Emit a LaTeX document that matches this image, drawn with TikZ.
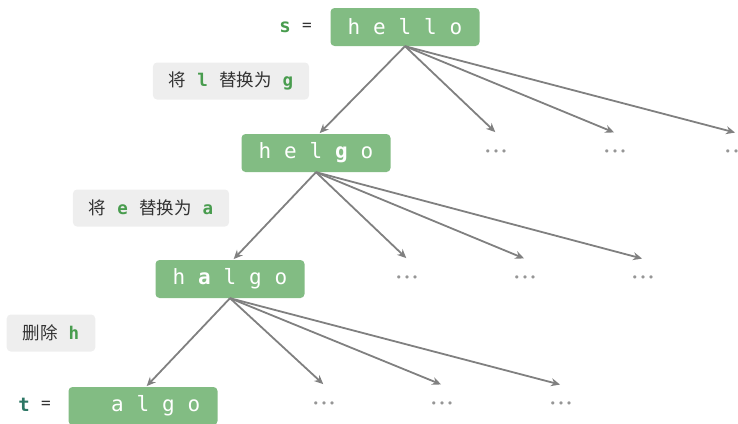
\documentclass[tikz,border=0pt]{standalone}
\usepackage{fontspec}
\setmainfont{DejaVu Sans}
\newfontfamily\cjk{Noto Sans CJK SC}
\newfontfamily\mono{DejaVu Sans Mono}
\usetikzlibrary{arrows.meta}
\definecolor{boxgreen}{RGB}{130,188,131}
\definecolor{labgray}{RGB}{238,238,238}
\definecolor{lgreen}{RGB}{72,156,78}
\definecolor{tgreen}{RGB}{44,118,100}
\definecolor{arrgray}{RGB}{128,128,128}
\definecolor{dotgray}{RGB}{150,150,150}
\definecolor{txtgray}{RGB}{50,50,50}
\newcommand{\lt}[1]{\makebox[25.5pt]{#1}}
\newcommand{\gl}[1]{{\mono\bfseries\color{lgreen}#1}}
\tikzset{
  strbox/.style={fill=boxgreen, rounded corners=4pt, minimum width=149pt, minimum height=38pt,
    inner sep=0pt, text=white, font=\mono\fontsize{21}{21}\selectfont},
  labbox/.style={fill=labgray, rounded corners=4pt, minimum height=37pt, inner xsep=16pt,
    text=txtgray, font=\cjk\fontsize{17.5}{17.5}\selectfont},
  dotnode/.style={minimum height=40pt, inner sep=0pt, text=dotgray,
    font=\fontsize{11}{11}\selectfont},
  arr/.style={draw=arrgray, line width=1.8pt, -{Stealth[length=9pt,width=8pt]}, shorten >=1pt},
  eqlab/.style={inner sep=0pt, font=\mono\bfseries\fontsize{19}{19}\selectfont}
}
\newcommand{\dd}{•\hspace{1.6pt}•\hspace{1.6pt}•}
\begin{document}
\begin{tikzpicture}[x=1pt,y=-1pt]
\useasboundingbox (0,0) rectangle (738,423);
\clip (0,0) rectangle (738,423);
% string boxes
\node[strbox] (hello) at (405,27) {\lt{h}\lt{e}\lt{l}\lt{l}\lt{o}};
\node[strbox] (helgo) at (316,153) {\lt{h}\lt{e}\lt{l}\lt{\bfseries g}\lt{o}};
\node[strbox] (halgo) at (230,279) {\lt{h}\lt{\bfseries a}\lt{l}\lt{g}\lt{o}};
\node[strbox] (algo) at (143,406) {\lt{}\lt{a}\lt{l}\lt{g}\lt{o}};
% s = / t =
\node[eqlab, text=lgreen] (s) at (285,27) {s};
\node[eqlab, text=txtgray, font=\mono\fontsize{16}{16}\selectfont] (seq) at (307,27) {=};
\node[eqlab, text=tgreen] (t) at (24,405) {t};
\node[eqlab, text=txtgray, font=\mono\fontsize{16}{16}\selectfont] (teq) at (46,405) {=};
% operation labels
\node[labbox] (op1) at (231,81) {将\hspace{11pt}\gl{l}\hspace{11pt}替换为\hspace{11pt}\gl{g}};
\node[labbox] (op2) at (151,208) {将\hspace{11pt}\gl{e}\hspace{11pt}替换为\hspace{11pt}\gl{a}};
\node[labbox] (op3) at (51,333) {删除\hspace{11pt}\gl{h}};
% dots
\node[dotnode] (d11) at (496,153) {\dd};
\node[dotnode] (d12) at (615,153) {\dd};
\node[dotnode] (d13) at (736,153) {\dd};
\node[dotnode] (d21) at (407,279) {\dd};
\node[dotnode] (d22) at (525,279) {\dd};
\node[dotnode] (d23) at (643,279) {\dd};
\node[dotnode] (d31) at (324,405) {\dd};
\node[dotnode] (d32) at (442,405) {\dd};
\node[dotnode] (d33) at (561,405) {\dd};
% arrows
\draw[arr] (hello.south) -- ([xshift=3pt]helgo.north);
\draw[arr] (hello.south) -- (d11.north);
\draw[arr] (hello.south) -- (d12.north);
\draw[arr] (hello.south) -- (d13.north);
\draw[arr] (helgo.south) -- ([xshift=3pt]halgo.north);
\draw[arr] (helgo.south) -- (d21.north);
\draw[arr] (helgo.south) -- (d22.north);
\draw[arr] (helgo.south) -- (d23.north);
\draw[arr] (halgo.south) -- ([xshift=3pt]algo.north);
\draw[arr] (halgo.south) -- (d31.north);
\draw[arr] (halgo.south) -- (d32.north);
\draw[arr] (halgo.south) -- (d33.north);
\end{tikzpicture}
\end{document}
